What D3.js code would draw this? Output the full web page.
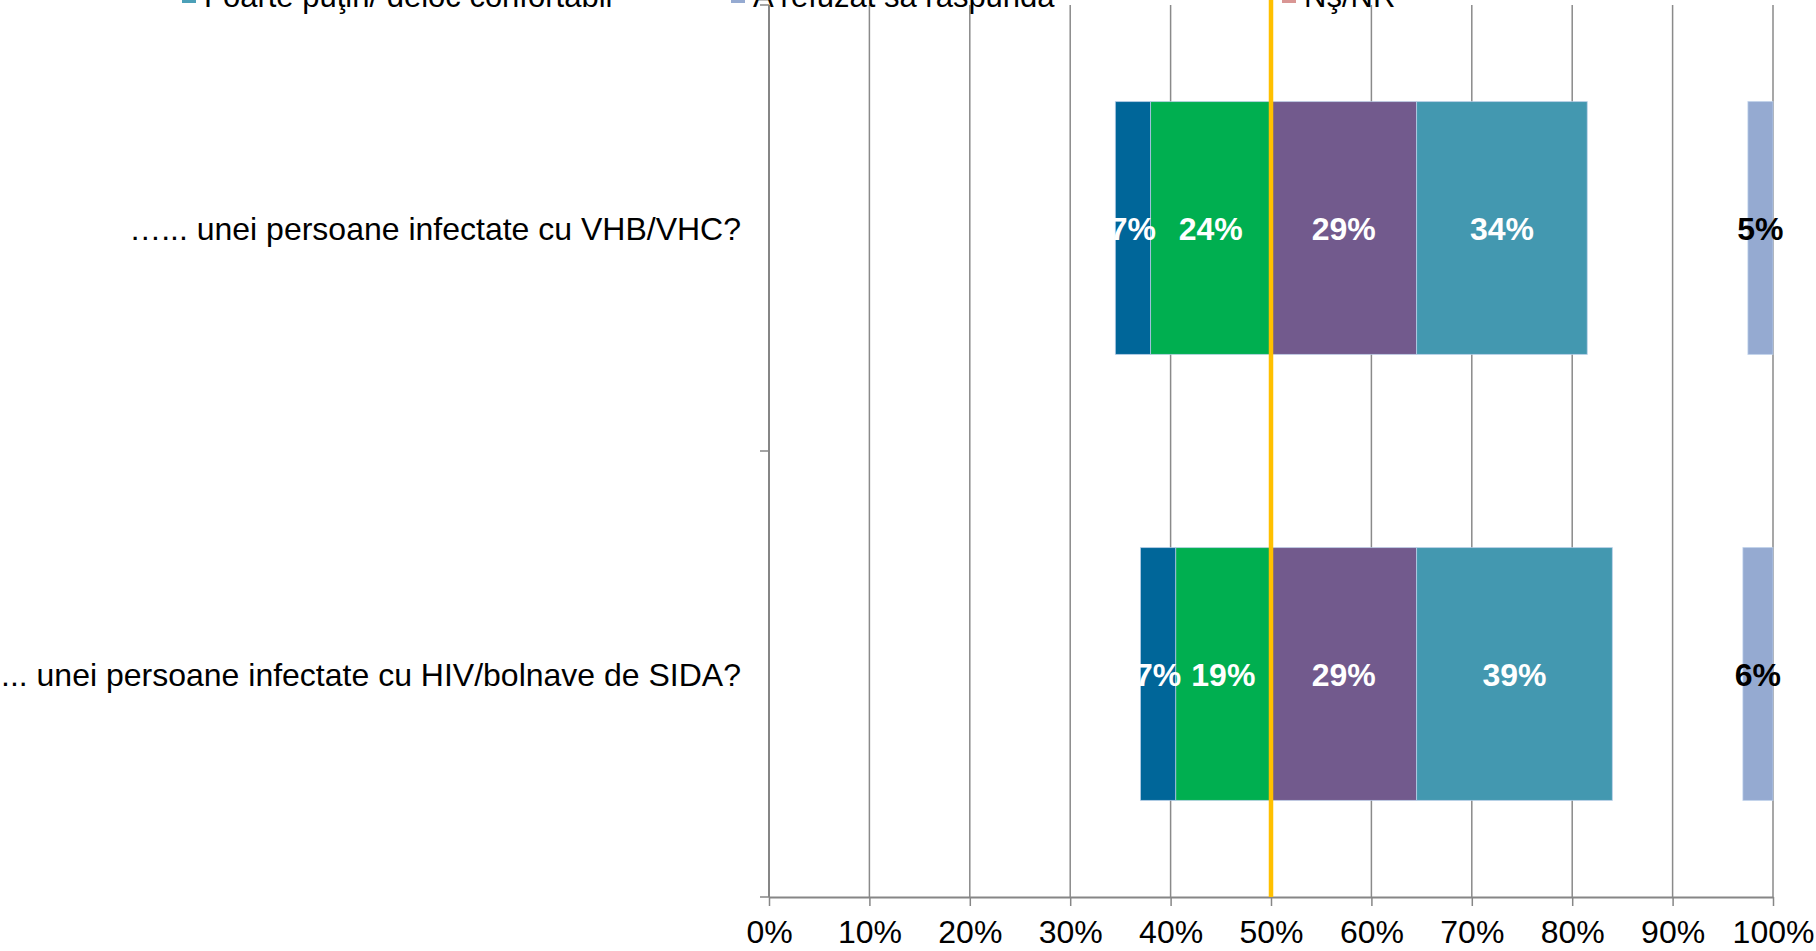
<!DOCTYPE html>
<html>
<head>
<meta charset="utf-8">
<script src="https://cdn.jsdelivr.net/npm/d3@7"></script>
<style>
  html, body { margin: 0; padding: 0; background: #fff; }
  svg { display: block; font-family: 'Liberation Sans', Arial, sans-serif; }
  .tick text { font-size: 32px; fill: #000; }
  .label { font-size: 32px; font-weight: bold; }
</style>
</head>
<body>
<div id="chart"></div>
<script>
// Data
const categories = [
  '\u2026... unei persoane infectate cu VHB/VHC?',
  '... unei persoane infectate cu HIV/bolnave de SIDA?'
]
// segments drawn left of the 50% line (inner first)
const leftSeries = [
  { name: 'Destul de confortabil', values: [24, 19], color: '#00AF50' },
  { name: 'Foarte confortabil', values: [7, 7], color: '#006699' }
]
// segments drawn right of the 50% line (inner first)
const rightSeries = [
  { name: 'Puţin confortabil', values: [29, 29], color: '#725A8D' },
  { name: 'Foarte puţin/ deloc confortabil', values: [34, 39], color: '#4398B0' }
]
// segment pinned to the right end
const endSeries = { name: 'A refuzat să răspundă', values: [5, 6], color: '#95AAD1' }

const legendItems = [
  { name: 'Foarte puţin/ deloc confortabil', color: '#4BA0B8' },
  { name: 'A refuzat să răspundă', color: '#95AAD1' },
  { name: 'Nş/NR', color: '#D99694' }
]
const tickValues = [0, 10, 20, 30, 40, 50, 60, 70, 80, 90, 100]

const width = 1816
const height = 951
const plotLeft = 769
const plotRight = 1773
const plotTop = 5
const plotBottom = 897

const svg = d3
  .select('#chart')
  .append('svg')
  .attr('width', width)
  .attr('height', height)

const xAxisScale = d3.scaleLinear().domain([0, 100]).range([plotLeft, plotRight])
// bars are drawn around the middle line, at half scale
const xBar = d3.scaleLinear().domain([-100, 100]).range([plotLeft, plotRight])
const y = d3
  .scaleBand()
  .domain(categories)
  .range([plotTop, plotBottom])
  .paddingInner(0.433)
  .paddingOuter(0.2165)

// gridlines
svg
  .append('g')
  .selectAll('line')
  .data(tickValues.slice(1))
  .join('line')
  .attr('x1', d => xAxisScale(d))
  .attr('x2', d => xAxisScale(d))
  .attr('y1', plotTop)
  .attr('y2', plotBottom)
  .attr('stroke', '#8a8a8a')
  .attr('stroke-width', 1.5)

// build segments
const segments = []
categories.forEach((c, i) => {
  let acc = 0
  leftSeries.forEach(s => {
    segments.push({ cat: c, x0: -(acc + s.values[i]), x1: -acc, v: s.values[i], color: s.color, text: '#fff' })
    acc += s.values[i]
  })
  acc = 0
  rightSeries.forEach(s => {
    segments.push({ cat: c, x0: acc, x1: acc + s.values[i], v: s.values[i], color: s.color, text: '#fff' })
    acc += s.values[i]
  })
  segments.push({ cat: c, x0: 100 - endSeries.values[i], x1: 100, v: endSeries.values[i], color: endSeries.color, text: '#000' })
})

svg
  .append('g')
  .selectAll('rect')
  .data(segments)
  .join('rect')
  .attr('x', d => xBar(d.x0))
  .attr('y', d => y(d.cat))
  .attr('width', d => xBar(d.x1) - xBar(d.x0))
  .attr('height', y.bandwidth())
  .attr('fill', d => d.color)
  .attr('stroke', 'rgba(190,210,235,0.7)')
  .attr('stroke-width', 1)

svg
  .append('g')
  .selectAll('text')
  .data(segments)
  .join('text')
  .attr('class', 'label')
  .attr('x', d => (xBar(d.x0) + xBar(d.x1)) / 2)
  .attr('y', d => y(d.cat) + y.bandwidth() / 2)
  .attr('dy', '0.36em')
  .attr('text-anchor', 'middle')
  .attr('fill', d => d.text)
  .text(d => d.v + '%')

// x axis
const xAxis = svg
  .append('g')
  .attr('transform', `translate(0,${plotBottom})`)
  .call(
    d3
      .axisBottom(xAxisScale)
      .tickValues(tickValues)
      .tickSize(9)
      .tickSizeOuter(0)
      .tickPadding(14)
      .tickFormat(d => d + '%')
  )
xAxis.select('.domain').attr('stroke', '#868686').attr('stroke-width', 2)
xAxis.selectAll('.tick line').attr('stroke', '#868686').attr('stroke-width', 1.5)
xAxis.attr('font-family', null).attr('font-size', null)

// y axis with ticks on category boundaries
const yBounds = [plotTop].concat(categories.map(c => y(c) + y.bandwidth() + (y.step() - y.bandwidth()) / 2))
const yAxis = svg.append('g')
yAxis
  .append('line')
  .attr('x1', plotLeft)
  .attr('x2', plotLeft)
  .attr('y1', plotTop)
  .attr('y2', plotBottom)
  .attr('stroke', '#868686')
  .attr('stroke-width', 2)
yAxis
  .selectAll('.ytick')
  .data(yBounds)
  .join('line')
  .attr('class', 'ytick')
  .attr('x1', plotLeft - 9)
  .attr('x2', plotLeft)
  .attr('y1', d => d)
  .attr('y2', d => d)
  .attr('stroke', '#868686')
  .attr('stroke-width', 1.5)

svg
  .append('g')
  .selectAll('text')
  .data(categories)
  .join('text')
  .attr('x', plotLeft - 28)
  .attr('y', d => y(d) + y.bandwidth() / 2)
  .attr('dy', '0.36em')
  .attr('text-anchor', 'end')
  .attr('font-size', 32)
  .attr('fill', '#000')
  .text(d => d)

// 50% reference line
svg
  .append('line')
  .attr('x1', xAxisScale(50))
  .attr('x2', xAxisScale(50))
  .attr('y1', 0)
  .attr('y2', plotBottom)
  .attr('stroke', '#FFC000')
  .attr('stroke-width', 4.5)

// legend, cut by the top edge as in the source image
const legendX = [182, 731, 1282]
const legend = svg
  .append('g')
  .selectAll('g')
  .data(legendItems)
  .join('g')
  .attr('transform', (d, i) => `translate(${legendX[i]},0)`)
legend
  .append('rect')
  .attr('x', 0)
  .attr('y', -11)
  .attr('width', 14)
  .attr('height', 14)
  .attr('fill', d => d.color)
legend
  .append('text')
  .attr('x', 22)
  .attr('y', 7)
  .attr('font-size', 31)
  .attr('fill', '#000')
  .text(d => d.name)
</script>
</body>
</html>
